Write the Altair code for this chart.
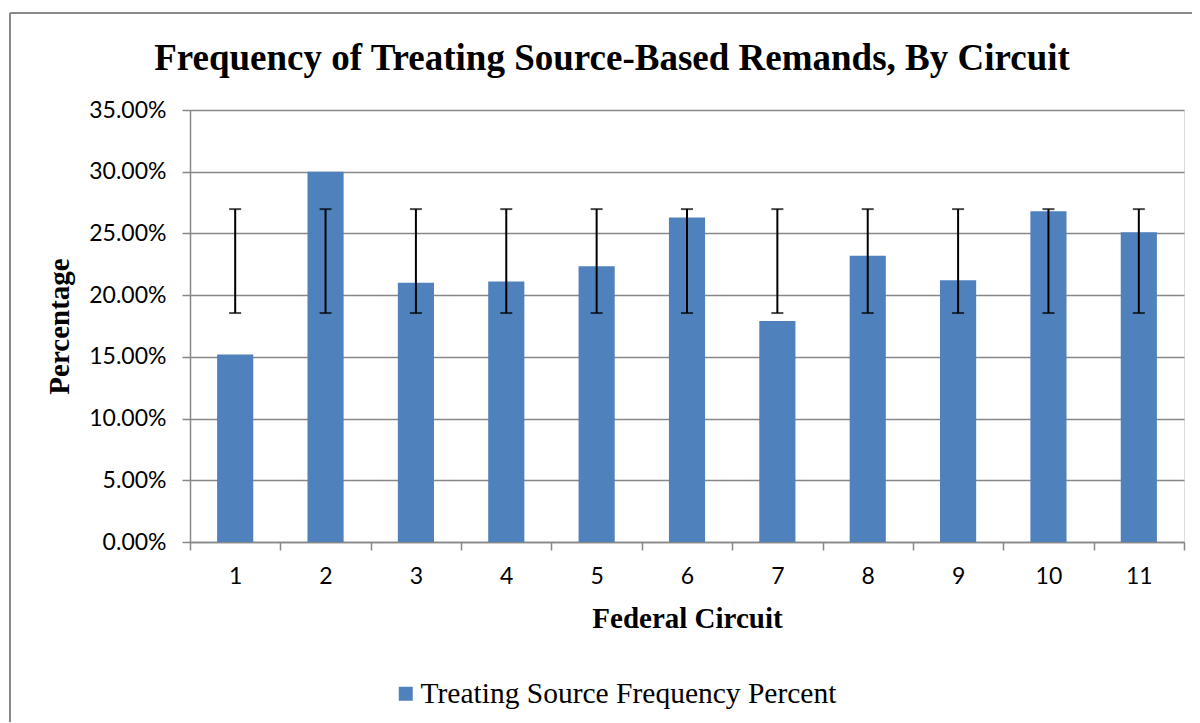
import altair as alt
import pandas as pd

circuits = ["1", "2", "3", "4", "5", "6", "7", "8", "9", "10", "11"]
freq = [0.152, 0.300, 0.210, 0.211, 0.2235, 0.263, 0.179, 0.232, 0.212, 0.268, 0.251]
err_low = [0.1855] * 11
err_high = [0.2697] * 11
series_name = "Treating Source Frequency Percent"

df = pd.DataFrame({
    "circuit": circuits,
    "freq": freq,
    "low": err_low,
    "high": err_high,
    "series": [series_name] * len(circuits),
})

GRID = "#878787"
LABEL_FONT = "Lato"
SERIF = "Liberation Serif"

x_scale = alt.Scale(paddingInner=0, paddingOuter=0)

x = alt.X(
    "circuit:N",
    sort=circuits,
    scale=x_scale,
    axis=alt.Axis(
        title="Federal Circuit",
        labelAngle=0,
        tickBand="extent",
        tickSize=8,
        tickColor=GRID,
        tickWidth=1.5,
        domainColor=GRID,
        domainWidth=1.5,
        labelFont=LABEL_FONT,
        labelFontSize=23,
        labelColor="#000000",
        labelPadding=15,
        titleFont=SERIF,
        titleFontSize=29,
        titleFontWeight="bold",
        titleColor="#000000",
        titlePadding=16,
    ),
)

y_scale = alt.Scale(domain=[0, 0.35], nice=False)

bars = alt.Chart(df).mark_bar(color="#4F81BD", width=alt.RelativeBandSize(0.4)).encode(
    x=x,
    y=alt.Y(
        "freq:Q",
        scale=y_scale,
        axis=alt.Axis(
            title="Percentage",
            format=".2%",
            values=[0, 0.05, 0.10, 0.15, 0.20, 0.25, 0.30, 0.35],
            grid=True,
            gridColor=GRID,
            gridWidth=1.5,
            tickSize=8,
            tickColor=GRID,
            tickWidth=1.5,
            domainColor=GRID,
            domainWidth=1.5,
            labelFont=LABEL_FONT,
            labelFontSize=23,
            labelColor="#000000",
            labelPadding=16,
            titleFont=SERIF,
            titleFontSize=29,
            titleFontWeight="bold",
            titleColor="#000000",
            titlePadding=14,
        ),
    ),
    color=alt.Color(
        "series:N",
        scale=alt.Scale(range=["#4F81BD"]),
        legend=alt.Legend(
            title=None,
            orient="none",
            legendX=201,
            legendY=569,
            symbolType="square",
            symbolSize=196,
            symbolStrokeWidth=0,
            labelOffset=0,
            labelFont=SERIF,
            labelFontSize=29.5,
            labelColor="#000000",
            labelLimit=700,
        ),
    ),
)

rules = alt.Chart(df).mark_rule(color="#000000", strokeWidth=2).encode(
    x=alt.X("circuit:N", sort=circuits, scale=x_scale),
    y=alt.Y("low:Q", scale=y_scale),
    y2="high:Q",
)

caps_low = alt.Chart(df).mark_tick(color="#000000", size=12, thickness=2, orient="horizontal").encode(
    x=alt.X("circuit:N", sort=circuits, scale=x_scale),
    y=alt.Y("low:Q", scale=y_scale),
)
caps_high = alt.Chart(df).mark_tick(color="#000000", size=12, thickness=2, orient="horizontal").encode(
    x=alt.X("circuit:N", sort=circuits, scale=x_scale),
    y=alt.Y("high:Q", scale=y_scale),
)

frame_left = alt.Chart(df).mark_rule(color="#898989", strokeWidth=2).encode(
    x=alt.value(-180), y=alt.value(-97), y2=alt.value(620)
)
frame_top = alt.Chart(df).mark_rule(color="#898989", strokeWidth=2).encode(
    x=alt.value(-180), x2=alt.value(1010), y=alt.value(-97)
)

chart = alt.layer(bars, rules, caps_low, caps_high, frame_left, frame_top).properties(
    width=994,
    height=432,
    title=alt.TitleParams(
        "Frequency of Treating Source-Based Remands, By Circuit",
        font=SERIF,
        fontSize=37,
        fontWeight="bold",
        color="#000000",
        anchor="middle",
        dx=-75,
        offset=0,
        dy=66,
    ),
    autosize=alt.AutoSizeParams(type="none"),
    padding={"left": 182, "top": 102, "right": 8, "bottom": 180},
).configure_view(stroke=None).configure(background="#ffffff")

chart.save("out.html", embed_options={"renderer": "svg", "actions": False})
